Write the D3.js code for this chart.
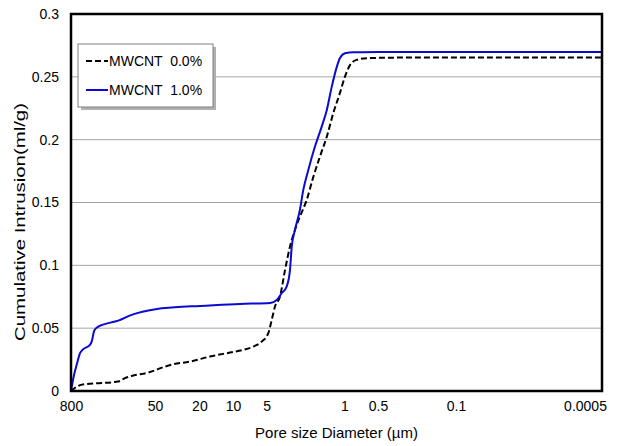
<!DOCTYPE html>
<meta charset="utf-8">
<script src="https://d3js.org/d3.v7.min.js"></script>
<style>
  body { margin: 0; background: #fff; }
  text { font-family: "Liberation Sans", Arial, sans-serif; }
</style>
<div id="chart"></div>
<script>

// tick labels along the pore size axis (µm)
var xTicks = [800, 50, 20, 10, 5, 1, 0.5, 0.1, 0.0005];
var yTicks = [0, 0.05, 0.1, 0.15, 0.2, 0.25, 0.3];

// pore diameter (µm), cumulative intrusion (ml/g)
var d0x = [800, 629, 504, 325, 187, 159, 135, 108, 62.4, 40.7, 34.3, 24.3, 16.1, 10.6, 8.08, 6.57, 5.52, 4.82, 4.49, 4.20, 3.79, 3.41, 3.08, 2.78, 2.51, 2.18, 1.90, 1.66, 1.44, 1.26, 1.10, 0.99, 0.89, 0.78, 0.63, 0.32, 0.1, 0.01, 0.001, 0.00025];
var d0y = [0, 0.0041, 0.0054, 0.0062, 0.0072, 0.0080, 0.0102, 0.0120, 0.0146, 0.0194, 0.0213, 0.0234, 0.0274, 0.0306, 0.0327, 0.0353, 0.0393, 0.0460, 0.0566, 0.0672, 0.0751, 0.0964, 0.1149, 0.1282, 0.1388, 0.1521, 0.1706, 0.1865, 0.2024, 0.2211, 0.2370, 0.2502, 0.2595, 0.2635, 0.2648, 0.2653, 0.2653, 0.2653, 0.2653, 0.2653];

var d1x = [800, 724, 663, 594, 533, 428, 404, 371, 325, 233, 168, 108, 62.4, 43.6, 33.1, 19.7, 8.65, 4.65, 4.05, 3.66, 3.30, 3.08, 2.97, 2.78, 2.51, 2.34, 2.11, 1.84, 1.60, 1.44, 1.30, 1.17, 1.10, 0.99, 0.83, 0.5, 0.1, 0.01, 0.001, 0.00025];
var d1y = [0, 0.0128, 0.0208, 0.0301, 0.0333, 0.0367, 0.0393, 0.0481, 0.0512, 0.0540, 0.0560, 0.0606, 0.0640, 0.0659, 0.0667, 0.0677, 0.0693, 0.0701, 0.0725, 0.0778, 0.0831, 0.0964, 0.1149, 0.1282, 0.1441, 0.1600, 0.1759, 0.1945, 0.2104, 0.2237, 0.2422, 0.2581, 0.2648, 0.2688, 0.2696, 0.2697, 0.2697, 0.2697, 0.2697, 0.2697];

var seriesNames = ["MWCNT  0.0%", "MWCNT  1.0%"];

var margin = {top: 14, right: 19, bottom: 55, left: 71},
    width = 621 - margin.left - margin.right,
    height = 446 - margin.top - margin.bottom;

// piecewise log scale so the hand placed labels land where they sit in the original
var x = d3.scaleLog()
  .domain([800, 50, 0.1, 0.0005, 0.00025])
  .range([0, 84, 385, 514, width]);

var y = d3.scaleLinear()
  .domain([0, 0.3])
  .range([height, 0]);

var svg = d3.select("#chart").append("svg")
    .attr("width", 621)
    .attr("height", 446)
  .append("g")
    .attr("transform", "translate(" + margin.left + "," + margin.top + ")");

// gridlines
svg.append("g")
  .selectAll("line")
  .data(yTicks.slice(1, -1))
  .join("line")
    .attr("x1", 0)
    .attr("x2", width)
    .attr("y1", function(d) { return y(d); })
    .attr("y2", function(d) { return y(d); })
    .attr("stroke", "#a6a6a6")
    .attr("stroke-width", 1);

// Y AXIS
var yAxis = svg.append("g")
  .call(d3.axisLeft(y).tickValues(yTicks).tickSize(0).tickPadding(12).tickFormat(function(d) { return d; }));
yAxis.select(".domain").remove();
yAxis.selectAll("text").attr("font-size", "14px").attr("fill", "#000").attr("font-family", "Liberation Sans, Arial, sans-serif");

// X AXIS
var xAxis = svg.append("g")
  .attr("transform", "translate(0," + height + ")")
  .call(d3.axisBottom(x).tickValues(xTicks).tickSize(0).tickPadding(10).tickFormat(function(d) { return String(d); }));
xAxis.select(".domain").remove();
xAxis.selectAll("text").attr("font-size", "14px").attr("fill", "#000").attr("font-family", "Liberation Sans, Arial, sans-serif");

// curves
var line = d3.line()
  .x(function(d) { return x(d[0]); })
  .y(function(d) { return y(d[1]); })
  .curve(d3.curveMonotoneX);

svg.append("path")
  .datum(d0x.map(function(v, i) { return [v, d0y[i]]; }))
  .attr("fill", "none")
  .attr("stroke", "#000")
  .attr("stroke-width", 2)
  .attr("stroke-dasharray", "6,3")
  .attr("d", line);

svg.append("path")
  .datum(d1x.map(function(v, i) { return [v, d1y[i]]; }))
  .attr("fill", "none")
  .attr("stroke", "#0a0ad2")
  .attr("stroke-width", 2)
  .attr("d", line);

// frame
svg.append("rect")
  .attr("width", width)
  .attr("height", height)
  .attr("fill", "none")
  .attr("stroke", "#000")
  .attr("stroke-width", 2.5);

// axis titles
svg.append("text")
  .attr("x", width / 2)
  .attr("y", height + 47)
  .attr("font-size", "15px")
  .style("text-anchor", "middle")
  .text("Pore size Diameter (µm)");

// the original's vertical title is drawn much longer than the horizontal text
svg.append("text")
  .attr("transform", "translate(" + (-46) + "," + 208 + ") rotate(-90)")
  .attr("font-size", "15.5px")
  .attr("textLength", 238)
  .attr("lengthAdjust", "spacingAndGlyphs")
  .style("text-anchor", "middle")
  .text("Cumulative Intrusion(ml/g)");

// LEGEND
var lg = svg.append("g").attr("transform", "translate(7,30)");
lg.append("rect")
  .attr("x", 3).attr("y", 3).attr("width", 135).attr("height", 63)
  .attr("fill", "#b0b0b0");
lg.append("rect")
  .attr("width", 135).attr("height", 63)
  .attr("fill", "#fff")
  .attr("stroke", "#808080")
  .attr("stroke-width", 1);

var styles = [{stroke: "#000", dash: "6,3"}, {stroke: "#0a0ad2", dash: null}];
seriesNames.forEach(function(name, i) {
  var row = lg.append("g").attr("transform", "translate(0," + (17 + i * 29) + ")");
  row.append("line")
    .attr("x1", 8).attr("x2", 30)
    .attr("stroke", styles[i].stroke)
    .attr("stroke-width", 2)
    .attr("stroke-dasharray", styles[i].dash);
  row.append("text")
    .attr("x", 31).attr("y", 5)
    .attr("font-size", "14px")
    .style("white-space", "pre")
    .attr("xml:space", "preserve")
    .text(name);
});

</script>
